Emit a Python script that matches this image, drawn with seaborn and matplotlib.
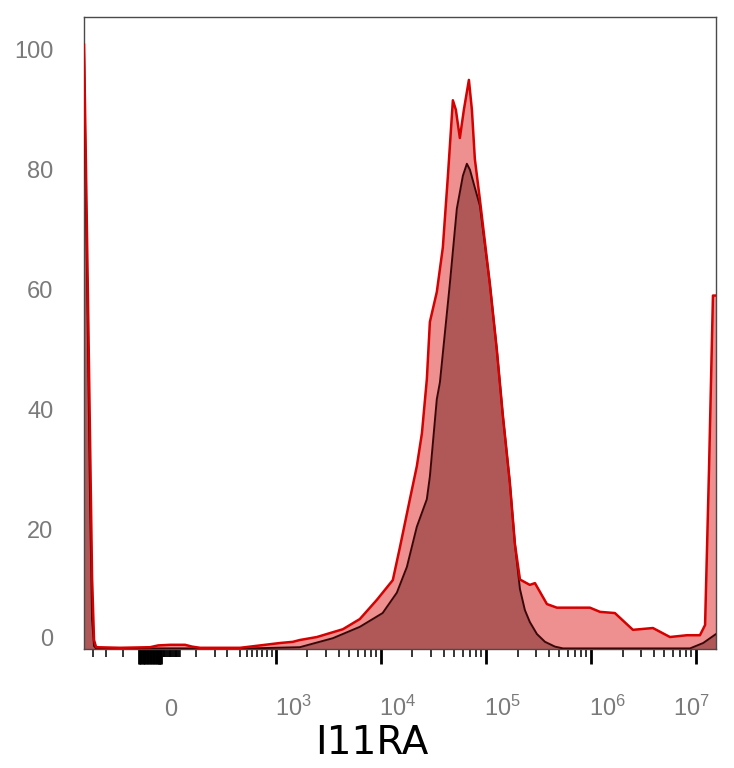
import numpy as np
import pandas as pd
import seaborn as sns
import matplotlib
matplotlib.use("Agg")
import matplotlib.pyplot as plt
from matplotlib.transforms import ScaledTranslation

# intensity (biexponential-ish axis) and % of max for the two overlaid histograms
light_x = [-387, -369, -351, -335, -319, -304, -289, -149,
           -31, -3, 38, 93, 122, 159, 445, 702,
           1.09e3, 1.45e3, 1.69e3, 2.46e3, 3.49e3, 4.35e3, 6.31e3, 9.16e3,
           1.30e4, 1.52e4, 1.89e4, 2.20e4, 2.46e4, 2.74e4, 2.93e4, 3.41e4,
           3.89e4, 4.35e4, 4.85e4, 5.18e4, 5.65e4, 6.17e4, 6.89e4, 7.36e4,
           7.85e4, 8.77e4, 1.09e5, 1.27e5, 1.45e5, 1.69e5, 1.89e5, 2.11e5,
           2.62e5, 2.93e5, 3.81e5, 4.74e5, 9.77e5, 1.22e6, 1.69e6, 2.51e6,
           3.89e6, 5.65e6, 8.20e6, 1.09e7, 1.22e7, 1.33e7, 1.45e7, 1.55e7]
light_y = [101, 80, 57, 35, 12, 1.5, 0.3, 0.2,
           0.3, 0.6, 0.7, 0.7, 0.4, 0.2, 0.2, 0.6,
           1.0, 1.2, 1.5, 2.0, 2.8, 3.3, 5.0, 8.2,
           11.5, 17, 25, 30.5, 36, 45, 54.6, 59.6,
           67, 79, 91.6, 90, 85.3, 90, 95, 90,
           81.8, 75, 61, 50, 39, 27.8, 17.5, 11.6,
           10.7, 11, 7.5, 6.9, 6.9, 6.2, 6, 3.2,
           3.5, 2, 2.3, 2.3, 4, 30, 59, 59]

dark_x = [-387, -369, -351, -335, -319, -304, -289, 560,
          1.69e3, 3.49e3, 6.31e3, 1.04e4, 1.42e4, 1.77e4, 2.20e4, 2.74e4,
          2.93e4, 3.41e4, 3.65e4, 4.54e4, 5.29e4, 6.04e4, 6.59e4, 7.05e4,
          7.85e4, 8.77e4, 1.09e5, 1.27e5, 1.45e5, 1.69e5, 1.89e5, 2.11e5,
          2.35e5, 2.62e5, 3.06e5, 3.65e5, 4.54e5, 5.41e5, 8.77e6, 1.17e7,
          1.55e7]
dark_y = [100, 75, 50, 25, 5, 0.5, 0.1, 0.1,
          0.3, 1.8, 3.7, 6, 9.4, 13.7, 20.4, 25,
          28.8, 41.7, 44.5, 61, 73.5, 79, 81, 80,
          77, 74, 61, 50, 39, 27.8, 17.5, 10,
          6.5, 4.5, 2.5, 1.2, 0.4, 0.1, 0.1, 1,
          2.5]

major_ticks = [0, 1e3, 1e4, 1e5, 1e6, 1e7]
major_labels = ["0", r"$10^{3}$", r"$10^{4}$", r"$10^{5}$", r"$10^{6}$", r"$10^{7}$"]
label_shift_px = [12, 17, 17, 17, 17, -5]
zero_long = list(range(-72, 11, 5))
zero_short = list(range(12, 75, 3))
linear_minor = [-310, -225, -135, 140, 240, 325, 445, 525, 590, 655, 735, 820, 915]
decade_minor = [k * 10 ** n for n in range(3, 7) for k in range(2, 10)]
y_ticks = [0, 20, 40, 60, 80, 100]

sns.set_style("white", {"xtick.bottom": True})
plt.rcParams["font.family"] = ["Liberation Sans", "DejaVu Sans"]
plt.rcParams["mathtext.fontset"] = "custom"
plt.rcParams["mathtext.rm"] = "Liberation Sans"
plt.rcParams["mathtext.it"] = "Liberation Sans:italic"
plt.rcParams["mathtext.bf"] = "Liberation Sans:bold"

fig = plt.figure(figsize=(7.34, 7.68), dpi=100)
ax = fig.add_axes([84 / 734, 119 / 768, 632 / 734, 632 / 768])

light = pd.DataFrame({"x": light_x, "y": light_y})
dark = pd.DataFrame({"x": dark_x, "y": dark_y})

ax.set_xscale("asinh", linear_width=155)

ax.fill_between(light["x"], light["y"], 0, color="#EE9090", lw=0, zorder=1)
ax.fill_between(dark["x"], dark["y"], 0, color="#B05858", lw=0, zorder=2)
sns.lineplot(data=dark, x="x", y="y", ax=ax, color="#3A0808", lw=1.4,
             estimator=None, sort=False, zorder=3)
sns.lineplot(data=light, x="x", y="y", ax=ax, color="#D50000", lw=1.8,
             estimator=None, sort=False, zorder=4)

ax.set_xlim(-387, 1.55e7)
ax.set_ylim(0, 105.5)

ax.set_xticks(major_ticks + zero_long, major_labels + [""] * len(zero_long))
ax.set_xticks(zero_short + linear_minor + decade_minor, minor=True)
ax.set_yticks(y_ticks, [str(v) for v in y_ticks])

ax.tick_params(axis="x", which="both", bottom=True)
ax.tick_params(axis="x", which="major", direction="out", length=11, width=2.0,
               color="black", pad=37, labelsize=17, labelcolor="#7a7a7a")
ax.tick_params(axis="x", which="minor", direction="out", length=5.5, width=1.1,
               color="black")
ax.tick_params(axis="y", which="both", left=False, length=0, pad=22, labelsize=17,
               labelcolor="#7a7a7a")

for lab, dx in zip(ax.get_xticklabels(), label_shift_px + [0] * len(zero_long)):
    lab.set_va("baseline")
    lab.set_transform(lab.get_transform() + ScaledTranslation(dx / 100, 0, fig.dpi_scale_trans))

ylabs = ax.get_yticklabels()
ylabs[0].set_transform(ylabs[0].get_transform() + ScaledTranslation(0, 11 / 100, fig.dpi_scale_trans))

for side in ["left", "right", "top", "bottom"]:
    ax.spines[side].set_color("#4a4a4a")
    ax.spines[side].set_linewidth(1.0)

ax.set_ylabel("")
ax.set_xlabel("I11RA", fontsize=28, color="black", family="DejaVu Sans")
ax.xaxis.set_label_coords((372 - 84) / 632, -0.118)

fig.savefig("out.png", dpi=100)
